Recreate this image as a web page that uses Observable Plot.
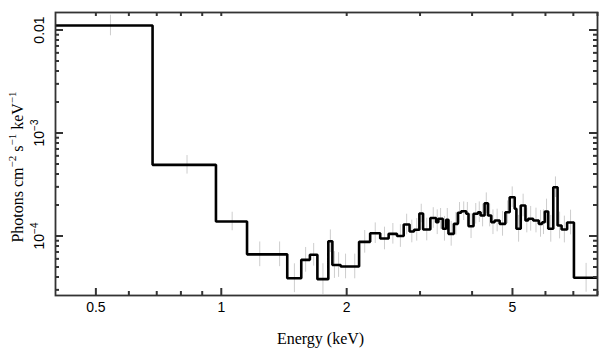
<!DOCTYPE html>
<html>
<head>
<meta charset="utf-8">
<script src="https://cdn.jsdelivr.net/npm/d3@7"></script>
<script src="https://cdn.jsdelivr.net/npm/@observablehq/plot@0.6"></script>
<style>
  html, body { margin: 0; padding: 0; background: #fff; }
</style>
</head>
<body>
<div id="chart"></div>
<script>
// Bin edges (keV) of the step spectrum
const edges = [0.4, 0.684, 0.971, 1.153, 1.321, 1.44, 1.556, 1.632, 1.701, 1.807, 1.848, 1.89, 1.935, 2.04, 2.142,
  2.277, 2.407, 2.522, 2.641, 2.741, 2.831, 2.902, 2.989, 3.051, 3.176, 3.278, 3.32, 3.402, 3.465, 3.51,
  3.617, 3.698, 3.766, 3.872, 3.922, 4.032, 4.132, 4.192, 4.286, 4.367, 4.448, 4.53, 4.658, 4.808, 4.924,
  5.062, 5.11, 5.234, 5.372, 5.453, 5.606, 5.783, 5.893, 5.979, 6.093, 6.265, 6.416, 6.56, 6.763, 7.023, 8];
// Flux per bin (photons cm^-2 s^-1 keV^-1)
const flux = [1.106e-2, 4.91e-4, 1.383e-4, 6.64e-5, 6.64e-5, 3.89e-5, 5.87e-5, 6.57e-5, 3.81e-5, 8.90e-5,
  5.23e-5, 5.23e-5, 5.06e-5, 5.06e-5, 8.78e-5, 1.065e-4, 9.46e-5, 1.05e-4, 1.0e-4, 1.293e-4,
  1.106e-4, 1.149e-4, 1.654e-4, 1.156e-4, 1.496e-4, 1.361e-4, 1.469e-4, 1.175e-4, 1.436e-4, 1.05e-4,
  1.313e-4, 1.68e-4, 1.741e-4, 1.643e-4, 1.245e-4, 1.643e-4, 1.702e-4, 1.581e-4, 2.082e-4, 1.581e-4,
  1.361e-4, 1.414e-4, 1.313e-4, 1.702e-4, 2.381e-4, 1.837e-4, 1.175e-4, 1.978e-4, 1.414e-4, 1.469e-4,
  1.414e-4, 1.313e-4, 1.361e-4, 1.729e-4, 1.175e-4, 2.977e-4, 1.265e-4, 1.156e-4, 1.352e-4, 3.93e-5];
// Error half-length per bin (in decades)
const errDex = [0.10, 0.09, 0.09, 0.12, 0.12, 0.14, 0.12, 0.11, 0.15, 0.11,
  0.13, 0.12, 0.12, 0.12, 0.11, 0.10, 0.11, 0.10, 0.11, 0.10,
  0.11, 0.11, 0.09, 0.11, 0.10, 0.12, 0.10, 0.12, 0.11, 0.12,
  0.11, 0.10, 0.09, 0.11, 0.12, 0.10, 0.10, 0.11, 0.10, 0.11,
  0.12, 0.11, 0.12, 0.11, 0.10, 0.12, 0.13, 0.11, 0.12, 0.12,
  0.12, 0.13, 0.12, 0.12, 0.13, 0.10, 0.13, 0.13, 0.12, 0.14];

const xMajor = [0.5, 1, 2, 5];
const xMajorLabels = ["0.5", "1", "2", "5"];
const xMinor = [0.6, 0.7, 0.8, 0.9, 3, 4, 6, 7, 8];
const yMajor = [1e-4, 1e-3, 1e-2];
const yMajorLabels = ["10^{−4}", "10^{−3}", "0.01"];
const yMinor = [3e-5, 4e-5, 5e-5, 6e-5, 7e-5, 8e-5, 9e-5,
  2e-4, 3e-4, 4e-4, 5e-4, 6e-4, 7e-4, 8e-4, 9e-4,
  2e-3, 3e-3, 4e-3, 5e-3, 6e-3, 7e-3, 8e-3, 9e-3];
const xTitle = "Energy (keV)";
const yTitle = "Photons cm^{−2} s^{−1} keV^{−1}";

const bins = flux.map((v, i) => ({
  mid: (edges[i] + edges[i + 1]) / 2,
  v,
  lo: v / Math.pow(10, errDex[i]),
  hi: v * Math.pow(10, errDex[i])
}));
const stepPts = edges.map((e, i) => ({e, v: flux[Math.min(i, flux.length - 1)]}));

const W = 609, H = 357, mL = 55, mR = 12, mT = 12, mB = 62;
const fw = W - mL - mR, fh = H - mT - mB;
const axCol = "#333";
const tsty = {stroke: axCol, strokeWidth: 2};
const sans = "Liberation Sans, Arimo, Helvetica, Arial, sans-serif";
const serif = "Liberation Serif, Tinos, Times New Roman, serif";

const svg = Plot.plot({
  width: W,
  height: H,
  marginLeft: mL,
  marginRight: mR,
  marginTop: mT,
  marginBottom: mB,
  x: {type: "log", domain: [0.4, 8], axis: null},
  y: {type: "log", domain: [2.645e-5, 0.01479], axis: null},
  style: {background: "#fff", color: "#000"},
  marks: [
    Plot.ruleX(bins, {x: "mid", y1: "lo", y2: "hi", stroke: "#cdcdcd", strokeWidth: 1, clip: true}),
    Plot.line(stepPts, {x: "e", y: "v", curve: "step-after", stroke: "#000", strokeWidth: 2.6,
      strokeLinejoin: "miter", strokeLinecap: "butt", clip: true}),
    Plot.frame({stroke: axCol, strokeWidth: 1.8}),
    // inward ticks on all four sides
    Plot.tickX(xMajor, {x: d => d, insetTop: fh - 7, ...tsty}),
    Plot.tickX(xMinor, {x: d => d, insetTop: fh - 4, ...tsty}),
    Plot.tickX(xMajor, {x: d => d, insetBottom: fh - 4, ...tsty}),
    Plot.tickX(xMinor, {x: d => d, insetBottom: fh - 4, ...tsty}),
    Plot.tickY(yMajor, {y: d => d, insetRight: fw - 8, ...tsty}),
    Plot.tickY(yMinor, {y: d => d, insetRight: fw - 4, ...tsty}),
    Plot.tickY(yMajor, {y: d => d, insetLeft: fw - 8, ...tsty}),
    Plot.tickY(yMinor, {y: d => d, insetLeft: fw - 4, ...tsty}),
    Plot.text(xMajor, {x: d => d, frameAnchor: "bottom", dy: 12, text: (d, i) => xMajorLabels[i],
      lineAnchor: "middle", fontSize: 14, fontFamily: sans, fill: "#000"}),
    Plot.text(yMajor, {y: d => d, frameAnchor: "left", dx: -16, rotate: -90, text: (d, i) => yMajorLabels[i],
      lineAnchor: "middle", textAnchor: "middle", fontSize: 14, fontFamily: sans, fill: "#000"}),
    Plot.text([xTitle], {frameAnchor: "bottom", dx: -6, dy: 43, text: d => d,
      lineAnchor: "middle", fontSize: 16, fontFamily: serif, fill: "#000"}),
    Plot.text([yTitle], {frameAnchor: "left", dx: -37.5, dy: 13, rotate: -90, text: d => d,
      lineAnchor: "middle", textAnchor: "middle", fontSize: 16, fontFamily: serif, fill: "#000"})
  ]
});
document.getElementById("chart").append(svg);

// Turn ^{...} markup into real superscript tspans
d3.select(svg).selectAll("text").each(function() {
  const t = this.textContent;
  if (!t.includes("^{")) return;
  const fs = parseFloat(d3.select(this.parentNode).attr("font-size")) || 14;
  const supSize = Math.round(fs * 0.68);
  const shift = Math.round(fs * 0.42);
  const sel = d3.select(this);
  sel.text("");
  const re = /\^\{([^}]*)\}/g;
  let last = 0, m, raised = false;
  while ((m = re.exec(t)) !== null) {
    const before = t.slice(last, m.index);
    if (before) sel.append("tspan").attr("dy", raised ? shift : null).text(before);
    raised = false;
    sel.append("tspan").attr("dy", -shift).attr("font-size", supSize).text(m[1]);
    raised = true;
    last = re.lastIndex;
  }
  const rest = t.slice(last);
  if (rest) sel.append("tspan").attr("dy", raised ? shift : null).text(rest);
});
</script>
</body>
</html>
